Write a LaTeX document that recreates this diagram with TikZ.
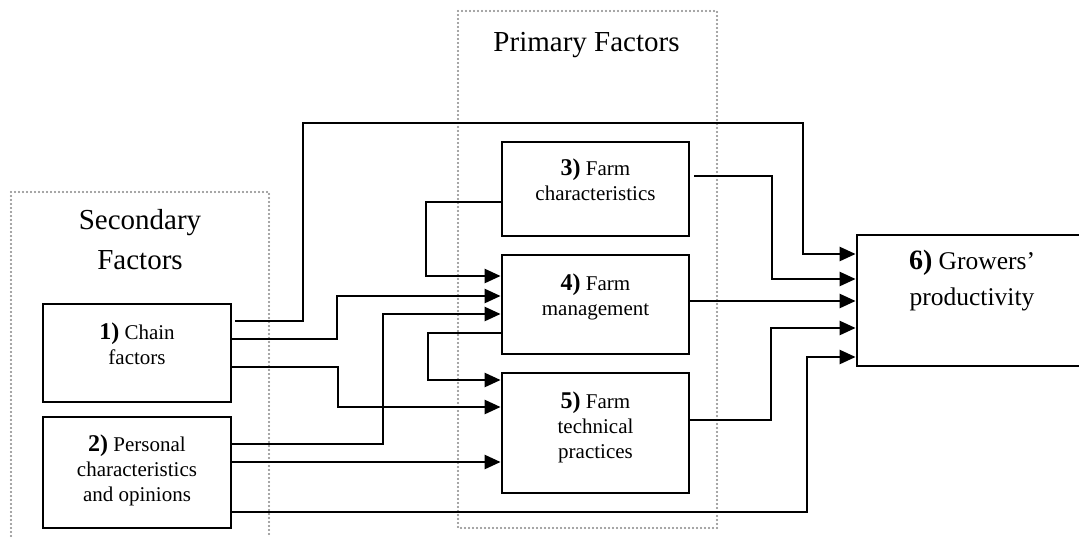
\documentclass[tikz,border=0pt]{standalone}
\usepackage{fontspec}
\setmainfont{Liberation Serif}
\usetikzlibrary{arrows.meta}

% bold item number in front of each box label
\newcommand\itemno[2][24]{{\fontsize{#1}{25}\selectfont\bfseries #2}}

\begin{document}
\begin{tikzpicture}[x=1pt,y=-1pt,
  group/.style={draw={rgb,255:red,135;green,135;blue,135}, line width=2.4pt,
    line cap=round, dash pattern=on 0pt off 4pt},
  box/.style={draw, line width=2.8pt, rectangle, inner sep=0pt},
  conn/.style={line width=2.5pt, -{Triangle[length=16pt,width=14pt]}},
  lbl/.style={inner sep=0pt, anchor=base, font=\fontsize{21}{25}\selectfont},
  head/.style={inner sep=0pt, anchor=base, font=\fontsize{29}{40}\selectfont}]
\useasboundingbox (0,0) rectangle (1079,536);
\clip (0,0) rectangle (1079,536);

% factor groups
\draw[group] (11,560) -- (11,192) -- (269,192) -- (269,560);
\draw[group] (458,11) rectangle (717,528);
\node[head] (tsec) at (140,229) {\begin{tabular}[t]{@{}c@{}}Secondary\\Factors\end{tabular}};
\node[head] (tpri) at (586.5,51) {Primary Factors};

% boxes
\node[box, minimum width=188pt, minimum height=98pt]  (b1) at (137,353) {};
\node[box, minimum width=188pt, minimum height=111pt] (b2) at (137,472.5) {};
\node[box, minimum width=187pt, minimum height=94pt]  (b3) at (595.5,189) {};
\node[box, minimum width=187pt, minimum height=99pt]  (b4) at (595.5,304.5) {};
\node[box, minimum width=187pt, minimum height=120pt] (b5) at (595.5,433) {};
\node[box, minimum width=233pt, minimum height=131pt] (b6) at (973.5,300.5) {};

% box labels
\node[lbl] (t1) at ([yshift=-37pt]b1.north) {\begin{tabular}[t]{@{}c@{}}\itemno{1)} Chain\\factors\end{tabular}};
\node[lbl] (t2) at ([yshift=-36pt]b2.north) {\begin{tabular}[t]{@{}c@{}}\itemno{2)} Personal\\characteristics\\and opinions\end{tabular}};
\node[lbl] (t3) at ([yshift=-35pt]b3.north) {\begin{tabular}[t]{@{}c@{}}\itemno{3)} Farm\\characteristics\end{tabular}};
\node[lbl] (t4) at ([yshift=-37pt]b4.north) {\begin{tabular}[t]{@{}c@{}}\itemno{4)} Farm\\management\end{tabular}};
\node[lbl] (t5) at ([yshift=-37pt]b5.north) {\begin{tabular}[t]{@{}c@{}}\itemno{5)} Farm\\technical\\practices\end{tabular}};
\node[inner sep=0pt, anchor=base, font=\fontsize{25.5}{36}\selectfont] (t6) at ([yshift=-36pt,xshift=-1.5pt]b6.north)
  {\begin{tabular}[t]{@{}c@{}}\itemno[28]{6)} Growers’\\productivity\end{tabular}};

% secondary -> primary and outcome
\draw[conn] ([yshift=32pt,xshift=3pt]b1.east) -| (303,123) -- (803,123) |- ([yshift=46.5pt]b6.west);
\draw[conn] ([yshift=14pt]b1.east) -- (337,339) |- ([yshift=8.5pt]b4.west);
\draw[conn] ([yshift=28.5pt]b2.east) -- (383,444) |- ([yshift=-9.5pt]b4.west);
\draw[conn] ([yshift=-14pt]b1.east) -- (338,367) |- ([yshift=26pt]b5.west);
\draw[conn] ([yshift=10.5pt]b2.east) -- ([yshift=-29pt]b5.west);
\draw[conn] ([yshift=-39.5pt]b2.east) -- (807,512) |- ([yshift=-56.5pt]b6.west);

% links among primary factors
\draw[conn] ([yshift=-13pt]b3.west) -- (426,202) |- ([yshift=28.5pt]b4.west);
\draw[conn] ([yshift=-28.5pt]b4.west) -- (428,333) |- ([yshift=53pt]b5.west);

% primary -> outcome
\draw[conn] ([yshift=13pt,xshift=4pt]b3.east) -- (772,176) |- ([yshift=21.5pt]b6.west);
\draw[conn] ([yshift=3.5pt]b4.east) -- ([yshift=-0.5pt]b6.west);
\draw[conn] ([yshift=13pt]b5.east) -- (771,420) |- ([yshift=-27.5pt]b6.west);
\end{tikzpicture}
\end{document}
